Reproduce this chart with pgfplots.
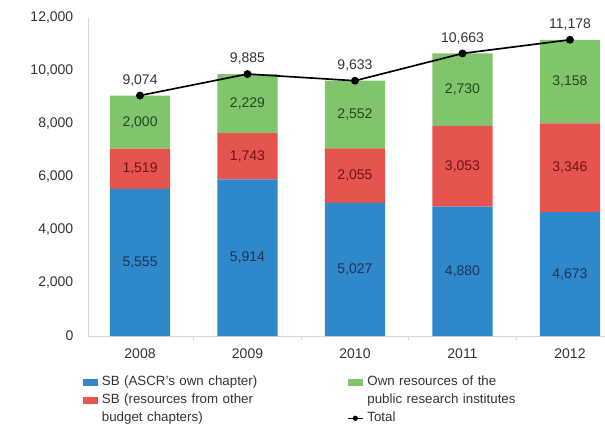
\documentclass[border=0pt]{standalone}
\usepackage{fontspec}
\setmainfont{Liberation Sans}
\usepackage{pgfplots}
\pgfplotsset{compat=1.18}
\usepackage{pgfplotstable}
\definecolor{cblue}{HTML}{2F88C9}
\definecolor{cred}{HTML}{E5544F}
\definecolor{cgreen}{HTML}{80C46B}
\definecolor{tblue}{HTML}{1A3558}
\definecolor{tred}{HTML}{6E1414}
\definecolor{tgreen}{HTML}{1E4A1E}
\definecolor{axgray}{HTML}{D8D8D8}
\definecolor{txt}{HTML}{333333}
\pgfplotstableread{
x year sba sbo own total
0 2008 5555 1519 2000 9074
1 2009 5914 1743 2229 9885
2 2010 5027 2055 2552 9633
3 2011 4880 3053 2730 10663
4 2012 4673 3346 3158 11178
}\data
% label positions: middle of each segment
\pgfplotstableread{
x ya yb yc
0 2777.5 6314.5 8074
1 2957 6785.5 8771.5
2 2513.5 6054.5 8358
3 2440 6406.5 9298
4 2336.5 6346 9598
}\mids
\pgfplotstablecreatecol[copy column from table={\mids}{ya}]{ya}\data
\pgfplotstablecreatecol[copy column from table={\mids}{yb}]{yb}\data
\pgfplotstablecreatecol[copy column from table={\mids}{yc}]{yc}\data
\pgfplotsset{base/.style={
 scale only axis, width=387.75pt, height=238.5pt,
 xmin=-0.484, xmax=4.326, ymin=0, ymax=12000,
 at={(0,0)}, anchor=south west,
 /pgf/number format/assume math mode=true,
 /pgf/number format/1000 sep={,},
}}
\begin{document}
\begin{tikzpicture}
\useasboundingbox (-66pt,-69pt) rectangle (387.75pt,252pt);
\begin{axis}[base, ybar stacked, bar width=0.56,
 axis x line*=bottom, axis y line*=left,
 axis line style={-, axgray, line width=0.7pt},
 ytick={0,2000,...,12000}, scaled y ticks=false,
 xtick={0,1,2,3,4}, xticklabels={2008,2009,2010,2011,2012},
 minor xtick={0.5,1.5,2.5,3.5},
 major tick length=0pt, minor tick length=3pt, tick align=outside,
 minor tick style={axgray, line width=0.6pt},
 ticklabel style={font=\fontsize{10.5}{12}\selectfont, color=txt},
 yticklabel style={xshift=-7.5pt},
 xticklabel style={yshift=-6pt},
]
\addplot[fill=cblue, draw=none] table[x=x, y=sba]{\data};
\addplot[fill=cred, draw=none] table[x=x, y=sbo]{\data};
\addplot[fill=cgreen, draw=none] table[x=x, y=own]{\data};
\end{axis}
\begin{axis}[base, hide axis, legend columns=2, legend cell align=left,
 legend style={at={(-0.0097,-0.1164)}, anchor=north west, draw=none, fill=none,
  font=\fontsize{10}{12}\selectfont, text=txt, inner sep=0pt,
  nodes={text width=181pt, align=left, inner xsep=3pt, text height=7.5pt, text depth=2pt, inner ysep=2pt},
  column sep=0pt, row sep=0pt},
 every node near coord/.append style={font=\fontsize{10.5}{12}\selectfont},
]
\addplot[forget plot, draw=none, mark=none, nodes near coords, point meta=explicit,
 every node near coord/.append style={anchor=center, color=tblue}]
 table[x=x, y=ya, meta=sba]{\data};
\addplot[forget plot, draw=none, mark=none, nodes near coords, point meta=explicit,
 every node near coord/.append style={anchor=center, color=tred}]
 table[x=x, y=yb, meta=sbo]{\data};
\addplot[forget plot, draw=none, mark=none, nodes near coords, point meta=explicit,
 every node near coord/.append style={anchor=center, color=tgreen}]
 table[x=x, y=yc, meta=own]{\data};
\addplot[forget plot, black, line width=1.25pt, mark=*, mark size=2.3pt, nodes near coords, point meta=explicit,
 every node near coord/.append style={anchor=south, yshift=3pt, color=txt}]
 table[x=x, y=total, meta=total]{\data};
\addlegendimage{draw=none, legend image code/.code={\fill[cblue] (0pt,-2.5pt) rectangle (11pt,2.5pt);}}
\addlegendentry{SB (ASCR's own chapter)}
\addlegendimage{draw=none, legend image code/.code={\fill[cgreen] (0pt,-2.5pt) rectangle (11pt,2.5pt);}}
\addlegendentry{Own resources of the}
\addlegendimage{draw=none, legend image code/.code={\fill[cred] (0pt,-2.5pt) rectangle (11pt,2.5pt);}}
\addlegendentry{SB (resources from other}
\addlegendimage{draw=none, legend image code/.code={\path[draw=none] (0pt,0pt) rectangle (11pt,0pt);}}
\addlegendentry{public research institutes}
\addlegendimage{draw=none, legend image code/.code={\path[draw=none] (0pt,0pt) rectangle (11pt,0pt);}}
\addlegendentry{budget chapters)}
\addlegendimage{draw=none, legend image code/.code={\draw[black, line width=1.1pt] (0pt,0pt) -- (11pt,0pt); \fill[black] (5.5pt,0pt) circle (2pt);}}
\addlegendentry{Total}
\end{axis}
\end{tikzpicture}
\end{document}
